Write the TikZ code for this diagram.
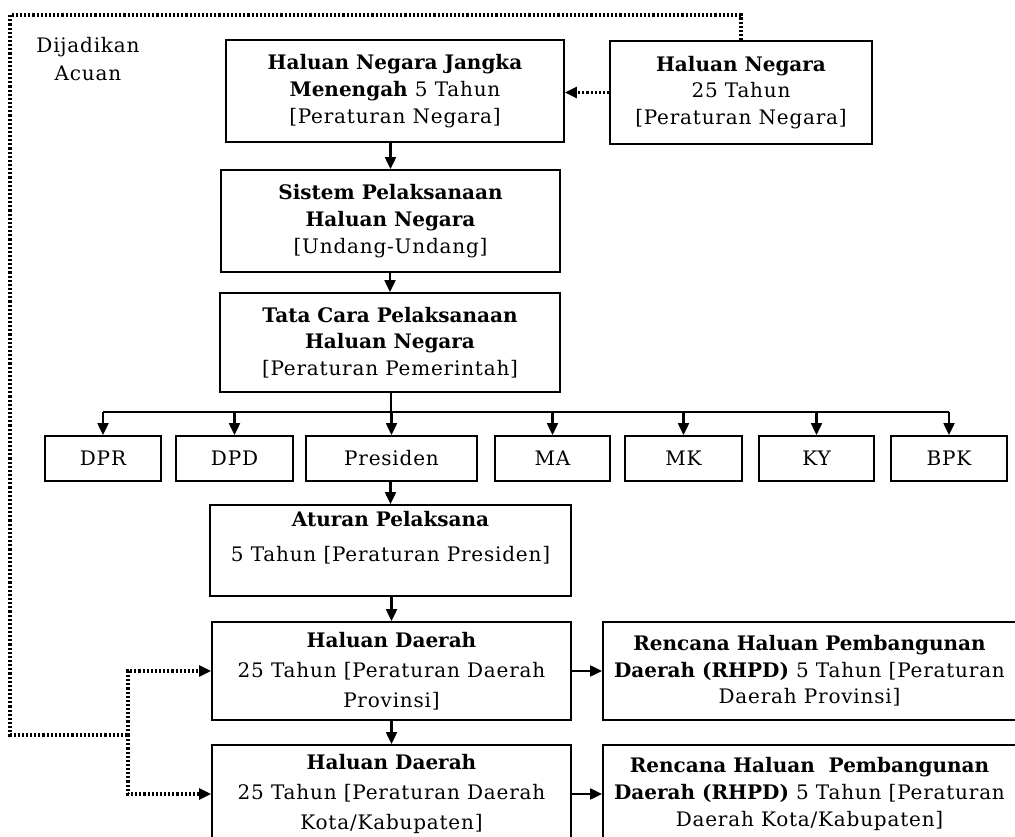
\documentclass[tikz,border=0pt]{standalone}
\usepackage{fontspec}
\setmainfont{DejaVu Serif}[LetterSpace=4,BoldFeatures={LetterSpace=0}]
\usetikzlibrary{arrows.meta}

\begin{document}
\begin{tikzpicture}[x=0.75pt,y=-0.75pt,
    txt/.style={font=\fontsize{15}{20}\selectfont},
    box/.style={txt,draw,line width=1.2pt,inner sep=0pt,align=center},
    wh/.style 2 args={minimum width=#1*0.75pt,minimum height=#2*0.75pt},
    arr/.style={line width=2pt,-{Triangle[length=9pt,width=8pt]}},
    dots/.style={line width=2.6pt,dash pattern=on 1.6pt off 1.5pt,
      -{Triangle[length=9pt,width=8pt]}}]
  \useasboundingbox (0,0) rectangle (1015,837);
  \draw
    (395,91) node[box,wh={338}{102}] (hnjm)
      {\textbf{Haluan Negara Jangka}\\\textbf{Menengah} 5 Tahun\\{[}Peraturan Negara]}
    (741,92.5) node[box,wh={262}{103}] (hn25)
      {\textbf{Haluan Negara}\\25 Tahun\\{[}Peraturan Negara]}
    (390.5,221) node[box,wh={339}{102}] (sistem)
      {\textbf{Sistem Pelaksanaan}\\\textbf{Haluan Negara}\\{[}Undang-Undang]}
    (390,342.5) node[box,wh={340}{99}] (tata)
      {\textbf{Tata Cara Pelaksanaan}\\\textbf{Haluan Negara}\\{[}Peraturan Pemerintah]}
    (103,458.5) node[box,wh={116}{45}] (dpr) {DPR}
    (234.5,458.5) node[box,wh={117}{45}] (dpd) {DPD}
    (391.5,458.5) node[box,wh={171}{45}] (pres) {Presiden}
    (552.5,458.5) node[box,wh={115}{45}] (ma) {MA}
    (683.5,458.5) node[box,wh={117}{45}] (mk) {MK}
    (816.5,458.5) node[box,wh={115}{45}] (ky) {KY}
    (949,458.5) node[box,wh={116}{45}] (bpk) {BPK}
    (390.5,550.5) node[box,wh={361}{91},text depth=21pt] (aturan)
      {\textbf{Aturan Pelaksana}\\[6.5pt]5 Tahun {[}Peraturan Presiden]}
    (391.5,671) node[box,wh={359}{98}] (hd1)
      {\textbf{Haluan Daerah}\\[2.5pt]25 Tahun {[}Peraturan Daerah\\[2.5pt]Provinsi]}
    (391.5,794) node[box,wh={359}{98}] (hd2)
      {\textbf{Haluan Daerah}\\[2.5pt]25 Tahun {[}Peraturan Daerah\\[2.5pt]Kota/Kabupaten]}
    (809.5,671) node[box,wh={413}{98}] (rh1)
      {\textbf{Rencana Haluan Pembangunan}\\\textbf{Daerah (RHPD)} 5 Tahun {[}Peraturan\\Daerah Provinsi]}
    (809.5,794) node[box,wh={413}{98}] (rh2)
      {\textbf{Rencana Haluan\ \ Pembangunan}\\\textbf{Daerah (RHPD)} 5 Tahun {[}Peraturan\\Daerah Kota/Kabupaten]}
    (88,59) node[txt,align=center,font=\fontsize{15}{21}\selectfont] (acuan)
      {Dijadikan\\Acuan};
  \coordinate (bus) at (391,412);
  \coordinate (top) at (10,15);
  \coordinate (split) at (128,735);
  % garis utama
  \draw[arr] (sistem.north |- hnjm.south) -- (sistem.north);
  \draw[arr] (tata.north |- sistem.south) -- (tata.north);
  \draw[line width=2pt] (bus |- tata.south) -- (bus);
  \draw[line width=2pt] (bus -| dpr.north) -- (bus -| bpk.north);
  \foreach \n in {dpr,dpd,pres,ma,mk,ky,bpk}
    \draw[arr] (bus -| \n.north) -- (\n.north);
  \draw[arr] (aturan.north |- pres.south) -- (aturan.north);
  \draw[arr] (hd1.north |- aturan.south) -- (hd1.north);
  \draw[arr] (hd1.south) -- (hd2.north);
  \draw[arr] (hd1.east) -- (rh1.west);
  \draw[arr] (hd2.east) -- (rh2.west);
  % garis acuan
  \draw[dots] (hn25.west) -- (hnjm.east |- hn25.west);
  \draw[dots,-] (hn25.north) |- (top) |- (split);
  \draw[dots] (split) |- (hd1.west);
  \draw[dots] (split) |- (hd2.west);
\end{tikzpicture}
\end{document}
